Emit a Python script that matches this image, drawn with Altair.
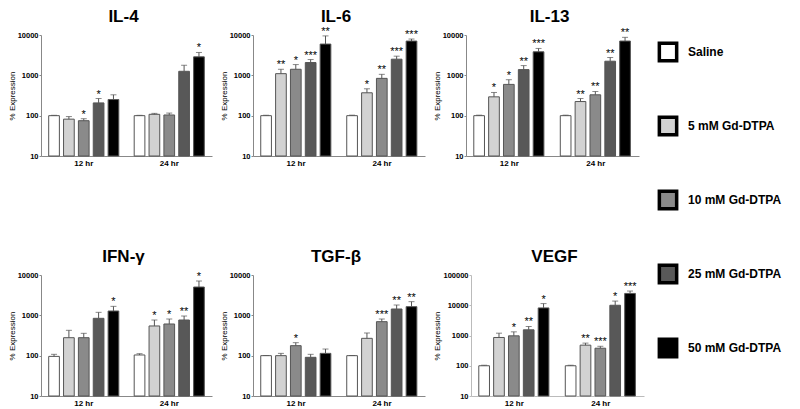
import altair as alt
import pandas as pd

treatments = ["Saline", "5 mM Gd-DTPA", "10 mM Gd-DTPA", "25 mM Gd-DTPA", "50 mM Gd-DTPA"]
times = ["12 hr", "24 hr"]
bar_colors = ["#ffffff", "#d2d2d2", "#8a8a8a", "#585858", "#000000"]

# each list: 12 hr (5 treatments) then 24 hr (5 treatments)
il4_values = [100, 82, 75, 207, 251, 100, 108, 104, 1259, 2870]
il4_upper = [102, 95, 84, 266, 329, 102, 114, 116, 1778, 3690]
il4_sig = ["", "", "*", "*", "", "", "", "", "", "*"]

il6_values = [100, 1100, 1413, 2073, 5957, 100, 369, 841, 2512, 7079]
il6_upper = [103, 1413, 1848, 2464, 9500, 103, 464, 1059, 2985, 7943]
il6_sig = ["", "**", "*", "***", "**", "", "*", "**", "***", "***"]

il13_values = [100, 293, 596, 1386, 3831, 100, 224, 329, 2239, 7079]
il13_upper = [103, 376, 779, 1744, 4642, 103, 266, 398, 2766, 8750]
il13_sig = ["", "*", "*", "**", "***", "", "**", "**", "**", "**"]

ifng_values = [96, 279, 279, 843, 1280, 104, 545, 610, 766, 5035]
ifng_upper = [108, 425, 358, 1187, 1670, 112, 766, 811, 962, 7096]
ifng_sig = ["", "", "", "", "*", "", "*", "*", "**", "*"]

tgfb_values = [100, 100, 177, 91, 114, 100, 269, 697, 1435, 1641]
tgfb_upper = [101, 114, 210, 108, 146, 101, 365, 811, 1803, 2183]
tgfb_sig = ["", "", "*", "", "", "", "", "***", "**", "**"]

vegf_values = [100, 859, 975, 1539, 8160, 100, 480, 380, 10000, 24600]
vegf_upper = [104, 1194, 1321, 1985, 11350, 104, 560, 440, 13750, 29500]
vegf_sig = ["", "", "*", "**", "*", "", "**", "***", "*", "***"]

y_ticks_4 = [10, 100, 1000, 10000]
y_ticks_5 = [10, 100, 1000, 10000, 100000]

FONT = "Liberation Sans"

color_scale = alt.Scale(domain=treatments, range=bar_colors)


def panel(name, values, upper, sig, ticks, width, domain_color="#888888"):
    df = pd.DataFrame({
        "time": [t for t in times for _ in treatments],
        "treatment": treatments * len(times),
        "value": values,
        "upper": upper,
        "sig": sig,
    })
    x = alt.X("time:N", sort=times, title=None,
              scale=alt.Scale(paddingInner=0.18, paddingOuter=0.09),
              axis=alt.Axis(labelAngle=0, ticks=False, domainColor=domain_color,
                            labelFont=FONT, labelFontWeight="bold", labelFontSize=8,
                            labelColor="black", labelPadding=3))
    xo = alt.XOffset("treatment:N", sort=treatments,
                     scale=alt.Scale(domain=treatments, paddingInner=0.28, paddingOuter=0))
    yscale = alt.Scale(type="log", domain=[ticks[0], ticks[-1]])
    y = alt.Y("value:Q", scale=yscale,
              axis=alt.Axis(values=ticks, format="d", title="% Expression", grid=False,
                            domainColor=domain_color, tickColor=domain_color, tickSize=2,
                            labelFont=FONT, labelFontWeight="bold", labelFontSize=7.5,
                            labelColor="black", labelPadding=1,
                            titleFont=FONT, titleFontWeight="normal", titleFontSize=8,
                            titleColor="black", titlePadding=1))
    base = alt.Chart(df)
    bars = base.mark_bar(stroke="#555555", strokeWidth=1).encode(
        x=x, xOffset=xo, y=y, y2=alt.Y2Datum(ticks[0]),
        color=alt.Color("treatment:N", sort=treatments, scale=color_scale, legend=None),
    )
    err = base.mark_rule(color="#555555", strokeWidth=1).encode(
        x=x, xOffset=xo, y=alt.Y("value:Q", scale=yscale), y2="upper:Q")
    cap = base.mark_tick(color="#555555", thickness=1, size=6, orient="horizontal").encode(
        x=x, xOffset=xo, y=alt.Y("upper:Q", scale=yscale))
    stars = base.mark_text(font=FONT, fontSize=11, color="black", baseline="alphabetic", dy=-1).encode(
        x=x, xOffset=xo, y=alt.Y("upper:Q", scale=yscale), text="sig:N")
    title = alt.Chart(pd.DataFrame({"name": [name]})).mark_text(
        font=FONT, fontSize=17, fontWeight="bold", color="black", baseline="top", align="center"
    ).encode(x=alt.value(width / 2 - 3), y=alt.value(-26), text="name:N")
    return alt.layer(bars, err, cap, stars, title).properties(width=width, height=121)


row1 = alt.hconcat(
    panel("IL-4", il4_values, il4_upper, il4_sig, y_ticks_4, 171),
    panel("IL-6", il6_values, il6_upper, il6_sig, y_ticks_4, 172),
    panel("IL-13", il13_values, il13_upper, il13_sig, y_ticks_4, 173),
    spacing=8,
)
row2 = alt.hconcat(
    panel("IFN-γ", ifng_values, ifng_upper, ifng_sig, y_ticks_4, 171),
    panel("TGF-β", tgfb_values, tgfb_upper, tgfb_sig, y_ticks_4, 172),
    panel("VEGF", vegf_values, vegf_upper, vegf_sig, y_ticks_5, 173, domain_color="#bbbbbb"),
    spacing=8,
)
panels = alt.vconcat(row1, row2, spacing=81)

# legend built from the treatment list
legend_df = pd.DataFrame({"treatment": treatments})
legend_y = alt.Y("treatment:N", sort=treatments, axis=None,
                 scale=alt.Scale(type="point", padding=0.23))
legend_squares = alt.Chart(legend_df).mark_square(
    size=300, stroke="black", strokeWidth=3.5, opacity=1
).encode(
    x=alt.value(10), y=legend_y,
    fill=alt.Fill("treatment:N", sort=treatments, scale=color_scale, legend=None),
)
legend_text = alt.Chart(legend_df).mark_text(
    align="left", baseline="middle", font=FONT, fontSize=12, fontWeight="bold", color="black"
).encode(x=alt.value(30), y=legend_y, text="treatment:N")
legend = alt.layer(legend_squares, legend_text).properties(width=130, height=330)

chart = alt.hconcat(panels, legend, spacing=8).properties(
    padding=0, background="white"
).configure_view(stroke=None)

chart.save("out.html", embed_options={"renderer": "svg", "actions": False})
